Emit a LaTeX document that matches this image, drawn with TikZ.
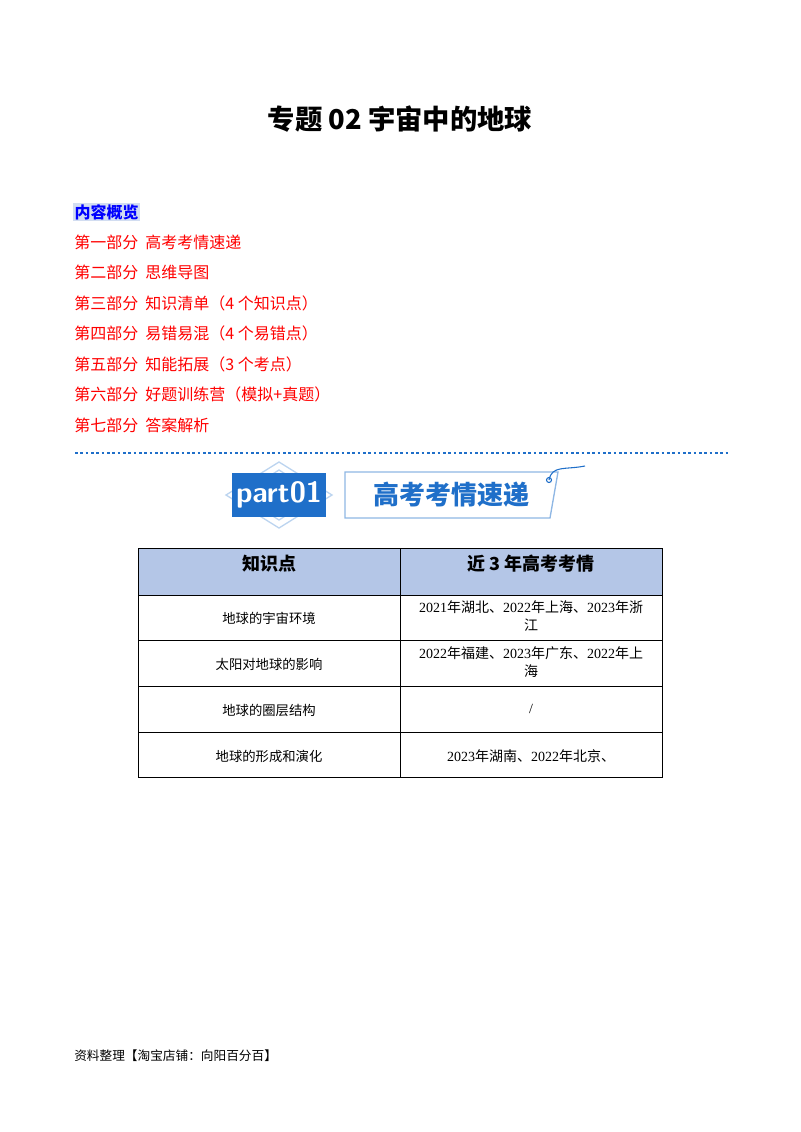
\documentclass[tikz,border=0pt]{standalone}
\usepackage{fontspec}
\setmainfont{Liberation Serif}
\newfontfamily\cjk{Noto Sans CJK SC}
\usepackage{tikz}
\usetikzlibrary{positioning}
\definecolor{menured}{HTML}{FF0000}
\definecolor{menublue}{HTML}{0000FF}
\definecolor{bannerblue}{HTML}{1F6FC9}
\definecolor{headfill}{HTML}{B4C6E7}
\tikzset{
  menu/.style={anchor=west, inner sep=0pt, font=\cjk\fontsize{12}{14}\selectfont, text=menured},
  cell/.style={anchor=center, align=center, font=\fontsize{10.5}{13.5}\selectfont},
  head/.style={anchor=center, font=\bfseries\fontsize{13.5}{15}\selectfont}
}
\begin{document}
\begin{tikzpicture}[x=0.75pt, y=-0.75pt]
    \useasboundingbox (0,0) rectangle (800,1132);

		% Title
		\node[font=\cjk\bfseries\fontsize{20.5}{24}\selectfont] (title) at (400,119) {专题 \textbf{02} 宇宙中的地球};

		% Overview
		\node[anchor=west, inner sep=1pt, fill=headfill!60, text=menublue, font=\cjk\bfseries\fontsize{12}{14}\selectfont] (overview) at (73,212) {内容概览};
		\node[menu] (p_one) at (74,242) {第一部分\ \ 高考考情速递};
		\node[menu] (p_two) at (74,272) {第二部分\ \ 思维导图};
		\node[menu] (p_three) at (74,303) {第三部分\ \ 知识清单（4 个知识点）};
		\node[menu] (p_four) at (74,333) {第四部分\ \ 易错易混（4 个易错点）};
		\node[menu] (p_five) at (74,364) {第五部分\ \ 知能拓展（3 个考点）};
		\node[menu] (p_six) at (74,394) {第六部分\ \ 好题训练营（模拟+真题）};
		\node[menu] (p_seven) at (74,425) {第七部分\ \ 答案解析};

		% Dotted separator
		\coordinate (sep_l) at (75,453);
		\coordinate (sep_r) at (728,453);
		\draw[bannerblue, line width=2pt, dash pattern=on 2pt off 2pt] (sep_l) -- (sep_r);

		% Banner
		\draw[bannerblue!30, line width=1pt] (279,470) -- (318,495) -- (279,520) -- (240,495) -- cycle;
		\draw[bannerblue!30, line width=1pt] (226,495) -- (279,462) -- (332,495) -- (279,528) -- cycle;
		\node[fill=bannerblue, text=white, minimum width=66pt, minimum height=33pt, font=\sffamily\bfseries\fontsize{22}{24}\selectfont] (part) at (279,495) {part01};
		\draw[bannerblue!50, line width=1pt, fill=white] (345,472) -- (558,472) -- (550,518) -- (345,518) -- cycle;
		\node[text=bannerblue, font=\cjk\bfseries\fontsize{19.5}{22}\selectfont] (banner_text) at (451,495) {高考考情速递};
		\draw[bannerblue, line width=0.8pt] (549,480) circle (2.5);
		\draw[bannerblue, line width=0.8pt] (549,480) .. controls (552,465) and (565,470) .. (585,466);

		% Table
		\fill[headfill] (138,548) rectangle (662,595);
		\draw[line width=0.6pt] (138,548) rectangle (662,777);
		\draw[line width=0.6pt] (400,548) -- (400,777);
		\foreach \y in {595,640,686,732} \draw[line width=0.6pt] (138,\y) -- (662,\y);
		\node[head] (h_one) at (269,564) {\cjk 知识点};
		\node[head] (h_two) at (531,564) {\cjk 近 \textbf{3} 年高考考情};
		\node[cell, font=\cjk\fontsize{10}{12}\selectfont] (r_one_a) at (269,618) {地球的宇宙环境};
		\node[cell] (r_one_b) at (531,616) {2021{\cjk 年湖北、}2022{\cjk 年上海、}2023{\cjk 年浙}\\{\cjk 江}};
		\node[cell, font=\cjk\fontsize{10}{12}\selectfont] (r_two_a) at (269,664) {太阳对地球的影响};
		\node[cell] (r_two_b) at (531,662) {2022{\cjk 年福建、}2023{\cjk 年广东、}2022{\cjk 年上}\\{\cjk 海}};
		\node[cell, font=\cjk\fontsize{10}{12}\selectfont] (r_three_a) at (269,710) {地球的圈层结构};
		\node[cell] (r_three_b) at (531,709) {/};
		\node[cell, font=\cjk\fontsize{10}{12}\selectfont] (r_four_a) at (269,756) {地球的形成和演化};
		\node[cell] (r_four_b) at (531,756) {2023{\cjk 年湖南、}2022{\cjk 年北京、}};

		% Footer
		\node[anchor=west, inner sep=0pt, font=\cjk\fontsize{9.5}{12}\selectfont] (footer) at (74,1056) {资料整理【淘宝店铺：向阳百分百】};
\end{tikzpicture}
\end{document}
